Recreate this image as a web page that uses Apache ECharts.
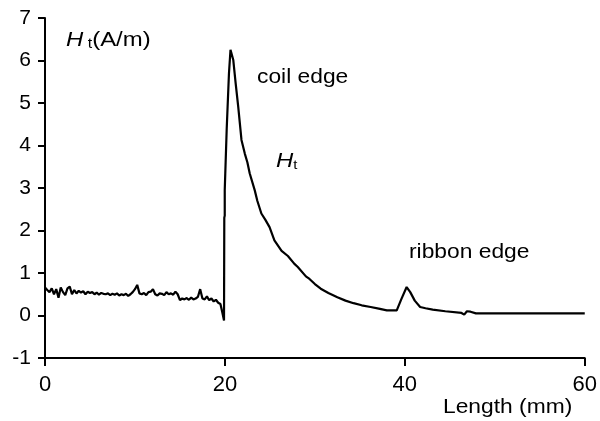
<!DOCTYPE html>
<html>
<head>
<meta charset="utf-8">
<script src="https://cdn.jsdelivr.net/npm/echarts@6/dist/echarts.min.js"></script>
<style>
  html, body { margin: 0; padding: 0; background: #fff; }
  #chart { width: 600px; height: 421px; }
</style>
</head>
<body>
<div id="chart"></div>
<script>
// x ticks (mm) and y ticks (A/m)
var xTicks = [0, 20, 40, 60];
var yTicks = [-1, 0, 1, 2, 3, 4, 5, 6, 7];

// Ht trace: [length mm, Ht A/m]
var baseline = [
  [0, 0.66], [0.25, 0.60], [0.5, 0.55], [0.75, 0.64], [1.0, 0.50], [1.25, 0.62],
  [1.5, 0.42], [1.75, 0.66], [2.0, 0.55], [2.25, 0.48], [2.5, 0.64], [2.75, 0.68],
  [3.0, 0.50], [3.25, 0.60], [3.5, 0.52], [3.75, 0.58], [4.0, 0.54], [4.25, 0.57],
  [4.5, 0.50], [4.75, 0.56], [5.0, 0.53], [5.25, 0.55], [5.5, 0.50], [5.75, 0.54],
  [6.0, 0.49], [6.25, 0.53], [6.5, 0.51], [6.75, 0.50], [7.0, 0.52], [7.25, 0.48],
  [7.5, 0.51], [7.75, 0.49], [8.0, 0.52], [8.25, 0.47], [8.5, 0.50], [8.75, 0.48],
  [9.0, 0.51], [9.25, 0.46], [9.5, 0.50], [9.75, 0.55], [10.0, 0.62], [10.25, 0.72],
  [10.5, 0.52], [10.75, 0.50], [11.0, 0.53], [11.25, 0.48], [11.5, 0.55], [11.75, 0.56],
  [12.0, 0.62], [12.25, 0.50], [12.5, 0.47], [12.75, 0.52], [13.0, 0.51], [13.25, 0.48],
  [13.5, 0.55], [13.75, 0.50], [14.0, 0.52], [14.25, 0.49], [14.5, 0.56], [14.75, 0.50],
  [15.0, 0.36], [15.25, 0.40], [15.5, 0.38], [15.75, 0.41], [16.0, 0.37], [16.25, 0.42],
  [16.5, 0.38], [16.75, 0.40], [17.0, 0.44], [17.25, 0.62], [17.5, 0.40], [17.75, 0.38],
  [18.0, 0.45], [18.25, 0.36], [18.5, 0.40], [18.75, 0.33], [19.0, 0.37], [19.25, 0.30],
  [19.5, 0.27], [19.7, 0.08], [19.9, -0.12]
];
var coilPeak = [
  [19.93, 2.3], [19.98, 2.35], [19.98, 2.95], [20.2, 4.4], [20.45, 5.7], [20.62, 6.25],
  [20.93, 6.01], [21.2, 5.45], [21.48, 4.91], [21.84, 4.13], [22.21, 3.81], [22.5, 3.6],
  [22.76, 3.34], [23.31, 2.95], [23.6, 2.7], [24.05, 2.40], [24.5, 2.25], [24.96, 2.08],
  [25.5, 1.77], [26.3, 1.52], [27.0, 1.40], [27.7, 1.22], [28.1, 1.14], [29.0, 0.92],
  [29.4, 0.86], [30.0, 0.74], [30.65, 0.63], [31.5, 0.53], [32.5, 0.43], [33.4, 0.35],
  [34.3, 0.29], [35.2, 0.24], [36.2, 0.20], [37.1, 0.16], [38.0, 0.12], [39.1, 0.12]
];
var ribbonPeak = [
  [39.6, 0.38], [40.2, 0.67], [40.6, 0.55], [41.1, 0.35], [41.7, 0.20], [42.3, 0.17],
  [43.1, 0.14], [44.5, 0.10], [46.3, 0.06], [46.6, 0.02], [46.9, 0.10], [47.3, 0.09],
  [47.9, 0.05], [52, 0.05], [56, 0.05], [60, 0.05]
];
var htPoints = baseline.concat(coilPeak, ribbonPeak);

var chart = echarts.init(document.getElementById("chart"));
var font = "Liberation Sans, Arial, sans-serif";
// the scanned lettering is a little wider than plain Arial
var stretch = 1.14;
var option = {
  backgroundColor: "#fff",
  animation: false,
  grid: { left: 45, right: 10, top: 18, bottom: 63 },
  xAxis: {
    type: "value",
    min: xTicks[0],
    max: xTicks[xTicks.length - 1],
    interval: 20,
    axisLine: { onZero: false, lineStyle: { color: "#000", width: 2 } },
    axisTick: { length: 8, lineStyle: { color: "#000", width: 2 } },
    axisLabel: { color: "#000", fontSize: 22, fontFamily: font, margin: 16 },
    splitLine: { show: false }
  },
  yAxis: {
    type: "value",
    min: yTicks[0],
    max: yTicks[yTicks.length - 1],
    interval: 1,
    axisLine: { show: true, lineStyle: { color: "#000", width: 2 } },
    axisTick: { show: true, length: 7, lineStyle: { color: "#000", width: 2 } },
    axisLabel: { color: "#000", fontSize: 21, fontFamily: font, margin: 14 },
    splitLine: { show: false }
  },
  series: [
    {
      name: "Ht",
      type: "line",
      data: htPoints,
      showSymbol: false,
      lineStyle: { color: "#000", width: 2.2 }
    }
  ],
  graphic: [
    {
      type: "text", left: 66, top: 30, scaleX: stretch,
      style: {
        text: "{h|H}{s| t}{n|(A/m)}",
        rich: {
          h: { fontSize: 21, fontStyle: "italic", fontFamily: font, fill: "#000" },
          s: { fontSize: 14, fontFamily: font, fill: "#000", verticalAlign: "bottom", padding: [8, 0, 0, 0] },
          n: { fontSize: 21, fontFamily: font, fill: "#000" }
        }
      }
    },
    {
      type: "text", left: 257, top: 67, scaleX: stretch,
      style: { text: "coil edge", fontSize: 20, fontFamily: font, fill: "#000" }
    },
    {
      type: "text", left: 276, top: 151, scaleX: stretch,
      style: {
        text: "{h|H}{s|t}",
        rich: {
          h: { fontSize: 21, fontStyle: "italic", fontFamily: font, fill: "#000" },
          s: { fontSize: 13, fontFamily: font, fill: "#000", padding: [8, 0, 0, 0] }
        }
      }
    },
    {
      type: "text", left: 409, top: 242, scaleX: stretch,
      style: { text: "ribbon edge", fontSize: 20, fontFamily: font, fill: "#000" }
    },
    {
      type: "text", left: 443, top: 397, scaleX: stretch,
      style: { text: "Length (mm)", fontSize: 20, fontFamily: font, fill: "#000" }
    }
  ]
};
chart.setOption(option);
</script>
</body>
</html>
